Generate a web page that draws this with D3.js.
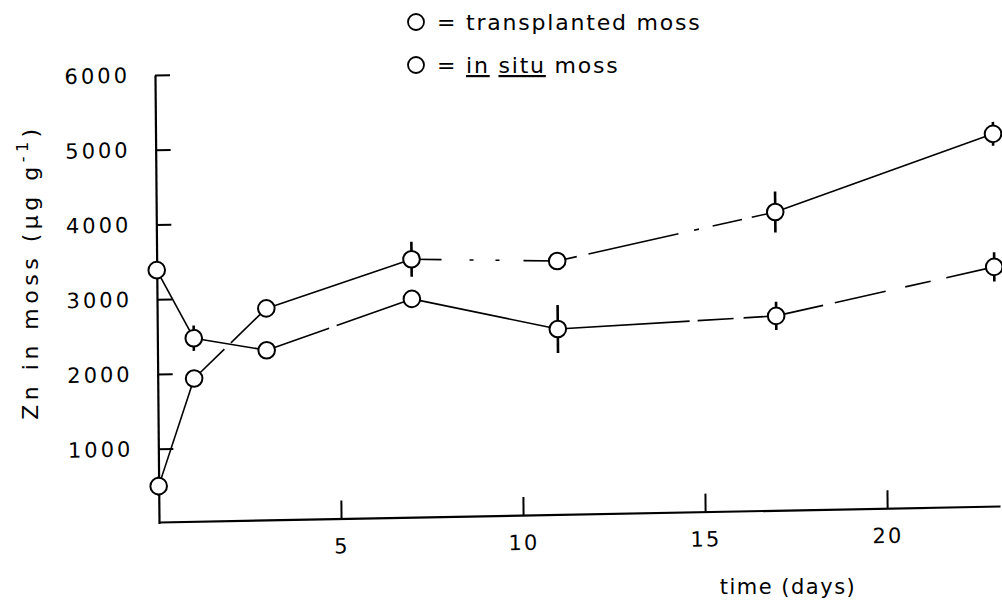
<!DOCTYPE html>
<html><head><meta charset="utf-8">
<script src="https://cdn.jsdelivr.net/npm/d3@7"></script>
<style>
body{margin:0;background:#fff}
svg{display:block}
text{font-family:"DejaVu Sans",sans-serif;fill:#000}
</style>
</head><body>
<svg id="chart" width="1002" height="607"></svg>
<script>
// ---- data ----
const days = [0, 1, 3, 7, 11, 17, 23];
const transplanted = [500, 1930, 2850, 3470, 3410, 4010, 5000];
const transplantedErr = [130, 0, 0, 235, 0, 275, 160];
const inSitu = [3390, 2470, 2290, 2940, 2500, 2620, 3220];
const inSituErr = [0, 170, 0, 0, 320, 190, 195];
const yTickValues = [1000, 2000, 3000, 4000, 5000, 6000];
const xTickValues = [5, 10, 15, 20];
const xTitle = "time  (days)";

// per-segment line breaks as seen in the scanned original
const transplantedDash = [null, "42,9,300", null, "30,28,4,22,4,24,60", "20,12,92,16,5,14,30,10,60", null];
const inSituDash = [null, null, "66,8,300", null, "132,8,36,10,80", "48,12,52,20,26,16,80"];

const svg = d3.select("#chart");

// the scanned figure is slightly sheared; reproduce it with one group transform
const g = svg.append("g")
  .attr("transform", "translate(159,522) matrix(1,-0.019,0.009,1,0,0)");

const x = d3.scaleLinear().domain([0, 23.1]).range([0, 841]);
const y = d3.scaleLinear().domain([0, 6000]).range([1.5, -447]);

// y axis
const yAxis = g.append("g")
  .call(d3.axisLeft(y).tickValues(yTickValues).tickSizeInner(-15).tickSizeOuter(0).tickPadding(25).tickFormat(d3.format("d")));
yAxis.select(".domain").attr("stroke-width", 2.2);
yAxis.selectAll(".tick line").attr("stroke-width", 2);
yAxis.selectAll(".tick text").attr("font-size", 21).attr("letter-spacing", 3)
  .attr("font-family", "DejaVu Sans");

// x axis
const xAxis = g.append("g")
  .attr("transform", `translate(0,${y(0) - 1.5})`)
  .call(d3.axisBottom(x).tickValues(xTickValues).tickSizeInner(-18).tickSizeOuter(0).tickPadding(20));
xAxis.select(".domain").attr("stroke-width", 2.2);
xAxis.selectAll(".tick line").attr("stroke-width", 2);
xAxis.selectAll(".tick text").attr("font-size", 21).attr("letter-spacing", 2)
  .attr("font-family", "DejaVu Sans");

// axis titles
svg.append("text")
  .attr("transform", "translate(38,272) rotate(-90)")
  .attr("text-anchor", "middle")
  .attr("font-size", 22).attr("letter-spacing", 4.5)
  .call(t => {
    t.append("tspan").text("Zn in moss  (\u03bcg g");
    t.append("tspan").attr("font-size", 16).attr("dy", -10).text("-1");
    t.append("tspan").attr("dy", 10).text(")");
  });

svg.append("text")
  .attr("x", 788).attr("y", 594)
  .attr("text-anchor", "middle")
  .attr("font-size", 21).attr("letter-spacing", 1.5)
  .text(xTitle);

// series
const series = [
  {vals: transplanted, err: transplantedErr, dash: transplantedDash},
  {vals: inSitu, err: inSituErr, dash: inSituDash}
];

series.forEach(s => {
  const pts = days.map((d, i) => ({day: d, v: s.vals[i], e: s.err[i]}));
  const segs = d3.pairs(pts).map((p, i) => ({a: p[0], b: p[1], dash: s.dash[i]}));
  g.selectAll(null).data(segs).enter().append("line")
    .attr("x1", d => x(d.a.day)).attr("y1", d => y(d.a.v))
    .attr("x2", d => x(d.b.day)).attr("y2", d => y(d.b.v))
    .attr("stroke", "#000").attr("stroke-width", 1.6)
    .attr("stroke-dasharray", d => d.dash);
  g.selectAll(null).data(pts.filter(p => p.e > 0)).enter().append("line")
    .attr("x1", p => x(p.day)).attr("x2", p => x(p.day))
    .attr("y1", p => y(p.v - p.e)).attr("y2", p => y(p.v + p.e))
    .attr("stroke", "#000").attr("stroke-width", 2.6);
  g.selectAll(null).data(pts).enter().append("circle")
    .attr("cx", p => x(p.day)).attr("cy", p => y(p.v)).attr("r", 8.3)
    .attr("fill", "#fff").attr("stroke", "#000").attr("stroke-width", 2);
});

// legend
const legend = svg.append("g");
const legRows = [
  {y: 22, parts: [["= ", false], ["transplanted", false], [" moss", false]]},
  {y: 65, parts: [["= ", false], ["in", true], [" ", false], ["situ", true], [" moss", false]]}
];
legRows.forEach(r => {
  legend.append("circle").attr("cx", 416).attr("cy", r.y).attr("r", 8)
    .attr("fill", "#fff").attr("stroke", "#000").attr("stroke-width", 1.8);
  const t = legend.append("text").attr("x", 437).attr("y", r.y + 8)
    .attr("font-size", 22).attr("letter-spacing", 1.8);
  r.parts.forEach(p => {
    t.append("tspan").attr("text-decoration", p[1] ? "underline" : null).text(p[0]);
  });
});
</script>
</body></html>
